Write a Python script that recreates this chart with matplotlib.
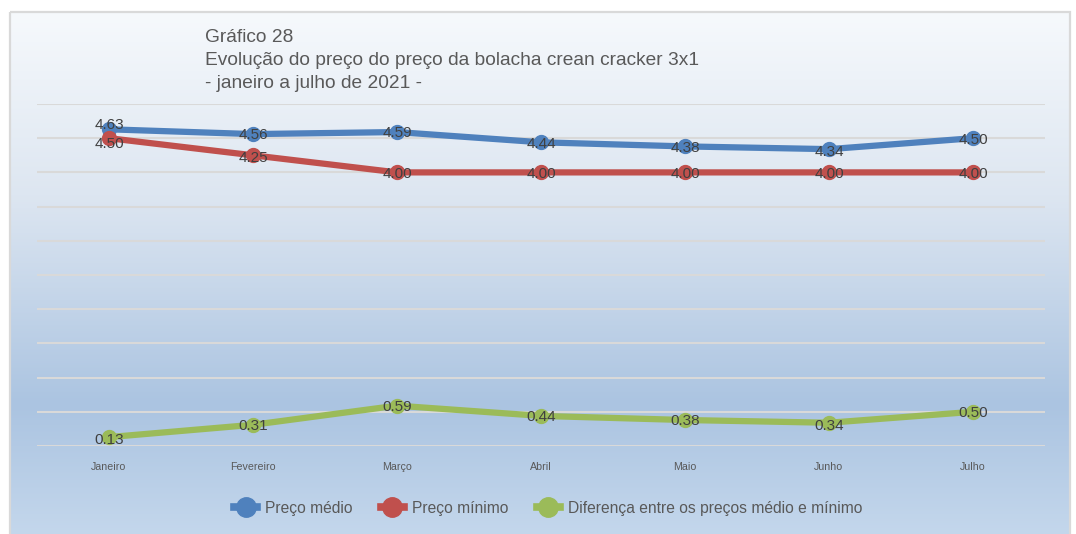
import matplotlib
matplotlib.use("Agg")
import matplotlib.pyplot as plt
import numpy as np
from matplotlib.colors import LinearSegmentedColormap
from matplotlib.lines import Line2D
from matplotlib.patches import Rectangle

plt.rcParams['font.family'] = ['Liberation Sans', 'DejaVu Sans']

# Data
months = ["Janeiro", "Fevereiro", "Março", "Abril", "Maio", "Junho", "Julho"]
preco_medio = [4.63, 4.56, 4.59, 4.44, 4.38, 4.34, 4.50]
preco_minimo = [4.50, 4.25, 4.00, 4.00, 4.00, 4.00, 4.00]
diferenca = [0.13, 0.31, 0.59, 0.44, 0.38, 0.34, 0.50]

series_names = ["Preço médio", "Preço mínimo", "Diferença entre os preços médio e mínimo"]
series_colors = ["#4f81bd", "#c0504d", "#9bbb59"]

title_lines = ["Gráfico 28",
               "Evolução do preço do preço da bolacha crean cracker 3x1",
               "- janeiro a julho de 2021 -"]

W, H = 1076, 534
fig = plt.figure(figsize=(W / 100, H / 100), dpi=100)
fig.patch.set_facecolor("white")

# Gradient background panel
bg = fig.add_axes([0, 0, 1, 1], zorder=0)
bg.set_xlim(0, W)
bg.set_ylim(H, 0)
bg.axis("off")
cmap = LinearSegmentedColormap.from_list(
    "panel", [(0.0, "#f6f9fc"), (0.35, "#dde6f1"), (0.75, "#abc4e1"), (1.0, "#c4d7ec")])
grad = np.linspace(0, 1, 256).reshape(-1, 1)
left, right, top, bottom = 10, 1070, 12, H + 2
bg.imshow(grad, cmap=cmap, aspect="auto", extent=[left, right, bottom, top],
          interpolation="bicubic")
bg.add_patch(Rectangle((left, top), right - left, bottom - top, fill=False,
                       edgecolor="#d9d9d9", linewidth=1.6))

# Title
for i, line in enumerate(title_lines):
    fig.text(205 / W, 1 - (38 + i * 22.5) / H, line, fontsize=13.8, color="#595959",
             ha="left", va="center", zorder=3)

# Plot area
ax = fig.add_axes([37 / W, 1 - 446 / H, 1008 / W, 342 / H], zorder=2)
ax.patch.set_alpha(0)
x = np.arange(len(months))
ax.set_xlim(-0.5, len(months) - 0.5)
ax.set_ylim(0, 5)
ax.set_yticks(np.arange(0, 5.01, 0.5))
ax.yaxis.grid(True, color="#d9d9d9", linewidth=1.5)
ax.set_axisbelow(True)
ax.tick_params(axis="y", left=False, labelleft=False)
ax.tick_params(axis="x", bottom=False, labelsize=7.7, labelcolor="#595959", pad=8)
ax.set_xticks(x)
ax.set_xticklabels(months)
for s in ax.spines.values():
    s.set_visible(False)

# Vertical nudges (points) for the labels of each series
nudges = [[3, -1, -1, -1, -1, -2, -1],
          [-4, -2, -1, -1, -1, -1, -1],
          [-2, -1, -1, -1, -1, -2, -1]]

all_series = [preco_medio, preco_minimo, diferenca]
for vals, name, col, nd in zip(all_series, series_names, series_colors, nudges):
    ax.plot(x, vals, color=col, linewidth=4.5, marker="o", markersize=10,
            solid_capstyle="round", label=name, zorder=3)
    for xi, v, dy in zip(x, vals, nd):
        ax.annotate(f"{v:.2f}", (xi, v), xytext=(0, dy), textcoords="offset points",
                    ha="center", va="center", fontsize=11, color="#404040", zorder=4)

# Legend
handles = [Line2D([0], [0], color=c, linewidth=5.5, marker="o", markersize=14)
           for c in series_colors]
leg = fig.legend(handles, series_names, loc="center", ncol=3,
                 bbox_to_anchor=(548 / W, 1 - 508 / H), frameon=False,
                 fontsize=11.25, handlelength=1.5, handletextpad=0.5, columnspacing=1.8)
for t in leg.get_texts():
    t.set_color("#595959")

fig.savefig("out.png", dpi=100)
